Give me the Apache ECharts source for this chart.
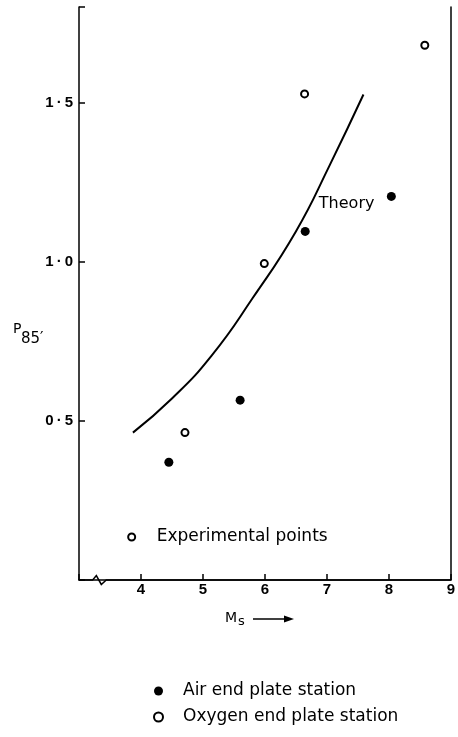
<!DOCTYPE html>
<html>
<head>
<meta charset="utf-8">
<script src="https://cdn.jsdelivr.net/npm/echarts@6/dist/echarts.min.js"></script>
<style>
html, body { margin: 0; padding: 0; background: #fff; }
#chart { width: 458px; height: 737px; }
</style>
</head>
<body>
<div id="chart"></div>
<script>
// values (Ms on x, P85' on y)
const theoryMs = [3.87, 4.5, 5.14, 5.8, 6.5, 7.05, 7.59];
const theoryP = [0.463, 0.57, 0.705, 0.885, 1.095, 1.305, 1.525];
const airMs = [4.45, 5.6, 6.65, 8.04];
const airP = [0.37, 0.565, 1.095, 1.205];
const oxyMs = [4.71, 5.99, 6.64, 8.58];
const oxyP = [0.463, 0.994, 1.527, 1.68];
const xTicks = [4, 5, 6, 7, 8, 9];
const yTicks = [0.5, 1.0, 1.5];

const TEXT_FONT = "DejaVu Sans";
const TICK_FONT = "Liberation Sans";

const zip = (xs, ys) => xs.map((x, i) => [x, ys[i]]);

const chart = echarts.init(document.getElementById("chart"));

const options = {
  animation: false,
  grid: { left: 79, right: 5, top: 7, bottom: 157, containLabel: false },
  xAxis: [
    {
      type: "value",
      min: 3,
      max: 9,
      interval: 1,
      axisLine: { show: false },
      axisTick: { show: true, inside: true, length: 6, lineStyle: { color: "#000", width: 1.5 } },
      splitLine: { show: false },
      axisLabel: {
        margin: 2,
        color: "#000",
        fontFamily: TICK_FONT,
        fontWeight: "bold",
        fontSize: 15,
        formatter: (v) => (xTicks.includes(v) ? String(v) : ""),
      },
    },
    {
      type: "value",
      position: "top",
      min: 3,
      max: 9,
      axisLine: { show: true, lineStyle: { color: "#000", width: 1.5 } },
      axisTick: { show: false },
      axisLabel: { show: false },
      splitLine: { show: false },
    },
  ],
  yAxis: [
    {
      type: "value",
      min: 0,
      max: 1.8,
      interval: 0.5,
      axisLine: { show: true, lineStyle: { color: "#000", width: 1.5 } },
      axisTick: { show: true, inside: true, length: 6, lineStyle: { color: "#000", width: 1.5 } },
      splitLine: { show: false },
      axisLabel: {
        margin: 6,
        color: "#000",
        fontFamily: TICK_FONT,
        fontWeight: "bold",
        fontSize: 15,
        formatter: (v) => (yTicks.includes(v) ? v.toFixed(1).replace(".", "\u2009·\u2009") : ""),
      },
    },
    {
      type: "value",
      position: "right",
      min: 0,
      max: 1.8,
      axisLine: { show: true, lineStyle: { color: "#000", width: 1.5 } },
      axisTick: { show: false },
      axisLabel: { show: false },
      splitLine: { show: false },
    },
  ],
  legend: {
    orient: "vertical",
    left: 148,
    top: 677,
    itemWidth: 9,
    itemHeight: 9,
    itemGap: 8,
    selectedMode: false,
    textStyle: {
      fontFamily: TEXT_FONT,
      fontSize: 17,
      color: "#000",
      lineHeight: 18,
      padding: [0, 0, 0, 15],
    },
    data: ["Air end plate station", "Oxygen end plate station"],
  },
  series: [
    {
      name: "Theory",
      type: "line",
      smooth: 0.5,
      showSymbol: false,
      lineStyle: { color: "#000", width: 2 },
      data: zip(theoryMs, theoryP),
      z: 2,
    },
    {
      name: "Air end plate station",
      type: "scatter",
      symbol: "circle",
      symbolSize: 9,
      itemStyle: { color: "#000", opacity: 1 },
      data: zip(airMs, airP),
      z: 3,
    },
    {
      name: "Oxygen end plate station",
      type: "scatter",
      symbol: "circle",
      symbolSize: 7,
      itemStyle: { color: "#fff", borderColor: "#000", borderWidth: 2, opacity: 1 },
      data: zip(oxyMs, oxyP),
      z: 3,
    },
  ],
};

chart.setOption(options);

// bottom axis line with the break mark near the origin
const breakLine = [[3, 0], [3.22, 0], [3.28, 0.014], [3.36, -0.014], [3.44, 0], [9, 0]];
const pts = breakLine.map((p) => chart.convertToPixel({ gridIndex: 0 }, p));
const theoryAt = chart.convertToPixel({ gridIndex: 0 }, [6.87, 1.183]);
const expAt = chart.convertToPixel({ gridIndex: 0 }, [3.85, 0.135]);

chart.setOption({
  graphic: [
    {
      type: "polyline",
      shape: { points: pts },
      style: { stroke: "#000", lineWidth: 1.5, fill: null },
      z: 10,
    },
    {
      type: "text",
      x: theoryAt[0],
      y: theoryAt[1],
      style: { text: "Theory", font: `16px "${TEXT_FONT}"`, fill: "#000", align: "left", verticalAlign: "middle" },
    },
    {
      type: "circle",
      shape: { cx: expAt[0], cy: expAt[1], r: 3.5 },
      style: { fill: "#fff", stroke: "#000", lineWidth: 2 },
    },
    {
      type: "text",
      x: expAt[0] + 25,
      y: expAt[1],
      style: { text: "Experimental points", font: `17px "${TEXT_FONT}"`, fill: "#000", align: "left", verticalAlign: "middle" },
    },
    // y axis name P85'
    {
      type: "text",
      x: 13,
      y: 329,
      style: { text: "P", font: `14px "${TEXT_FONT}"`, fill: "#000", align: "left", verticalAlign: "middle" },
    },
    {
      type: "text",
      x: 21,
      y: 339,
      style: { text: "85′", font: `15px "${TEXT_FONT}"`, fill: "#000", align: "left", verticalAlign: "middle" },
    },
    // x axis name Ms with arrow
    {
      type: "text",
      x: 225,
      y: 618,
      style: { text: "M", font: `14px "${TEXT_FONT}"`, fill: "#000", align: "left", verticalAlign: "middle" },
    },
    {
      type: "text",
      x: 238,
      y: 622,
      style: { text: "s", font: `13px "${TEXT_FONT}"`, fill: "#000", align: "left", verticalAlign: "middle" },
    },
    {
      type: "line",
      shape: { x1: 253, y1: 619, x2: 287, y2: 619 },
      style: { stroke: "#000", lineWidth: 1.5 },
    },
    {
      type: "polygon",
      shape: { points: [[284, 615.5], [294, 619], [284, 622.5]] },
      style: { fill: "#000" },
    },
  ],
});

window.addEventListener("resize", () => chart.resize());
</script>
</body>
</html>
